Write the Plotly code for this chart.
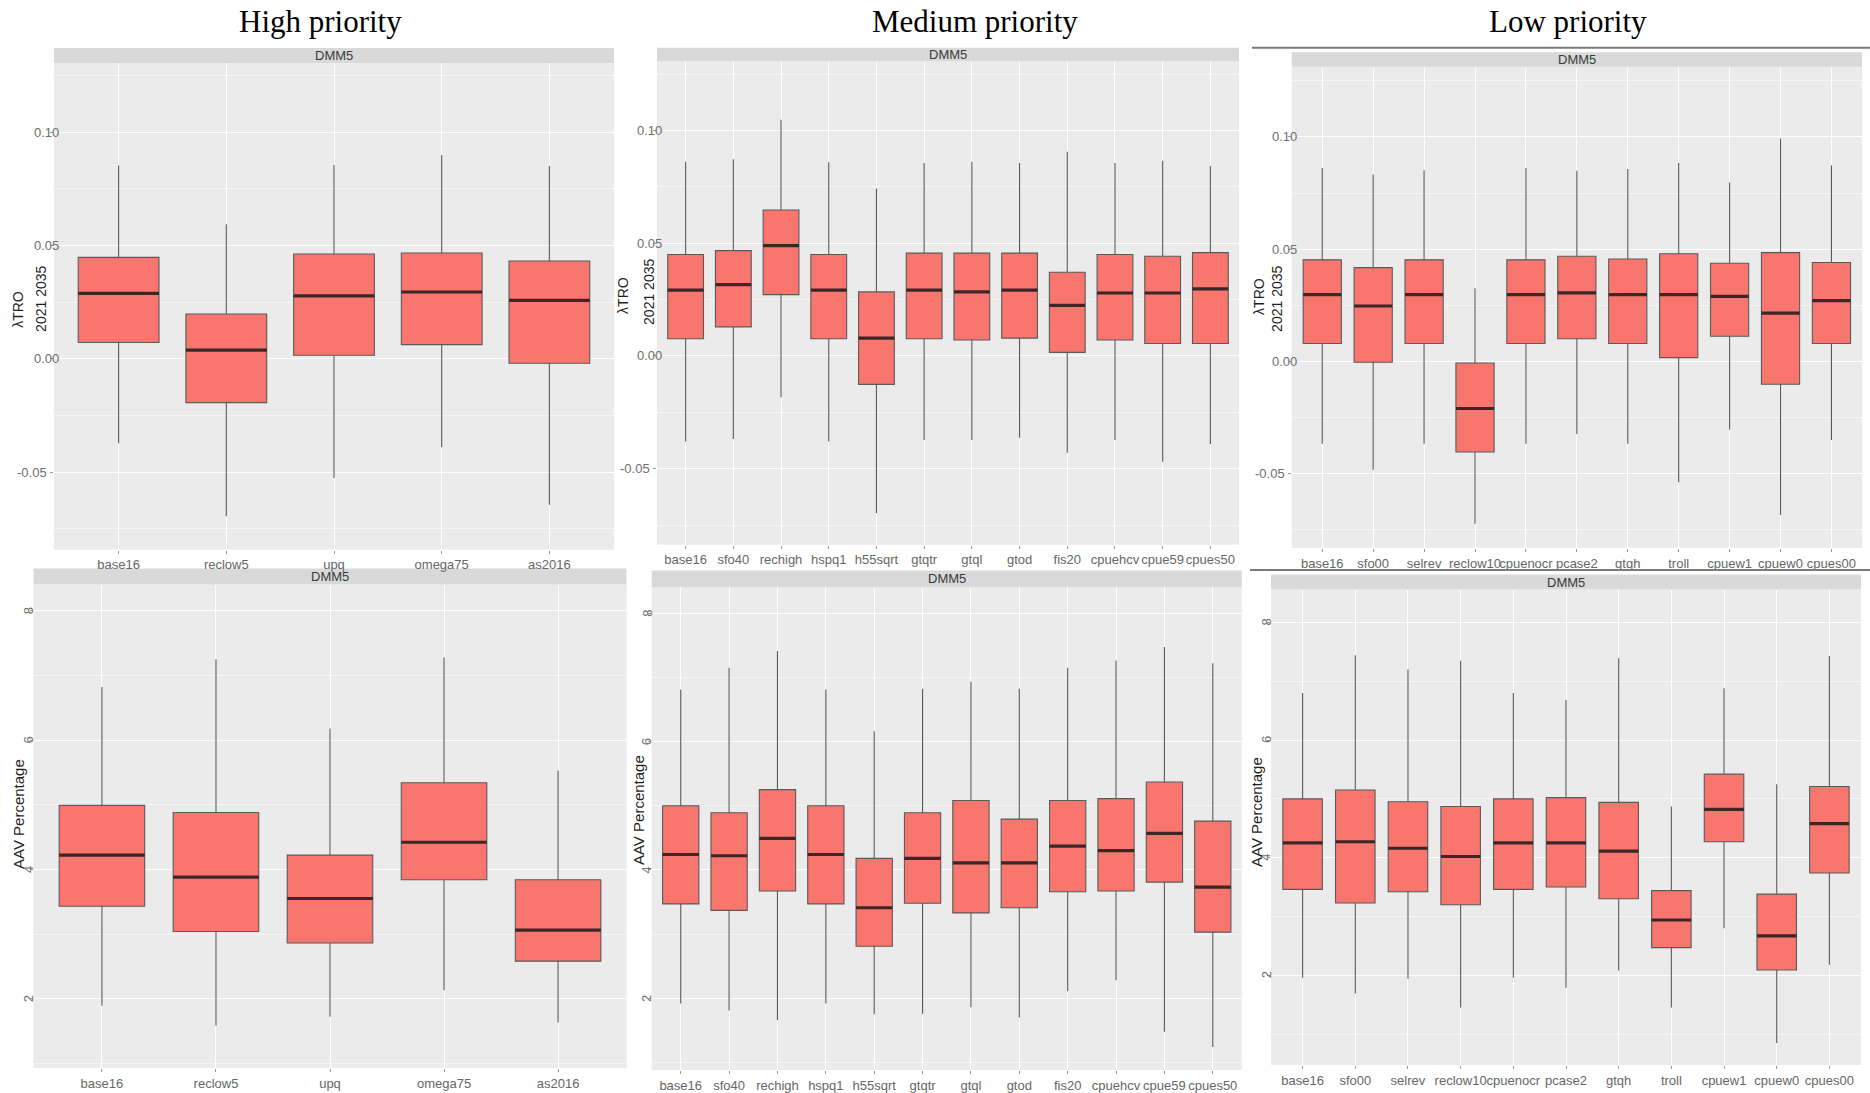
import plotly.graph_objects as go

# ---------------- data: box statistics per scenario ----------------
# Row 1: lambda TRO (2021-2035); Row 2: AAV percentage.
high_cats = ["base16", "reclow5", "upq", "omega75", "as2016"]
medium_cats = ["base16", "sfo40", "rechigh", "hspq1", "h55sqrt", "gtqtr",
               "gtql", "gtod", "fis20", "cpuehcv", "cpue59", "cpues50"]
low_cats = ["base16", "sfo00", "selrev", "reclow10", "cpuenocr", "pcase2",
            "gtqh", "troll", "cpuew1", "cpuew0", "cpues00"]

high_tro_lower = [-0.0372, -0.0694, -0.0526, -0.0390, -0.0644]
high_tro_q1 = [0.0072, -0.0193, 0.0016, 0.0063, -0.0019]
high_tro_median = [0.0289, 0.0039, 0.0278, 0.0295, 0.0258]
high_tro_q3 = [0.0448, 0.0198, 0.0463, 0.0467, 0.0432]
high_tro_upper = [0.0853, 0.0594, 0.0856, 0.0900, 0.0851]

medium_tro_lower = [-0.0379, -0.0368, -0.0183, -0.0379, -0.0698, -0.0373,
                    -0.0373, -0.0363, -0.0429, -0.0373, -0.0469, -0.0390]
medium_tro_q1 = [0.0076, 0.0129, 0.0272, 0.0076, -0.0126, 0.0076,
                 0.0071, 0.0079, 0.0016, 0.0071, 0.0055, 0.0055]
medium_tro_median = [0.0292, 0.0316, 0.0489, 0.0292, 0.0079, 0.0292,
                     0.0284, 0.0292, 0.0224, 0.0279, 0.0279, 0.0297]
medium_tro_q3 = [0.0450, 0.0467, 0.0647, 0.0450, 0.0284, 0.0456,
                 0.0456, 0.0456, 0.0371, 0.0450, 0.0442, 0.0458]
medium_tro_upper = [0.0861, 0.0872, 0.1047, 0.0859, 0.0742, 0.0856,
                    0.0861, 0.0856, 0.0905, 0.0856, 0.0865, 0.0842]

low_tro_lower = [-0.0368, -0.0484, -0.0368, -0.0725, -0.0368, -0.0325,
                 -0.0368, -0.0540, -0.0306, -0.0686, -0.0352]
low_tro_q1 = [0.0079, -0.0005, 0.0079, -0.0405, 0.0079, 0.0100,
              0.0079, 0.0016, 0.0111, -0.0103, 0.0079]
low_tro_median = [0.0297, 0.0246, 0.0297, -0.0211, 0.0297, 0.0305,
                  0.0297, 0.0297, 0.0289, 0.0214, 0.0270]
low_tro_q3 = [0.0452, 0.0417, 0.0452, -0.0008, 0.0452, 0.0468,
              0.0456, 0.0479, 0.0437, 0.0484, 0.0440]
low_tro_upper = [0.0862, 0.0833, 0.0852, 0.0325, 0.0862, 0.0849,
                 0.0857, 0.0884, 0.0797, 0.0992, 0.0873]

high_aav_lower = [1.89, 1.58, 1.72, 2.13, 1.63]
high_aav_q1 = [3.43, 3.04, 2.86, 3.84, 2.58]
high_aav_median = [4.22, 3.88, 3.55, 4.42, 3.06]
high_aav_q3 = [4.99, 4.88, 4.22, 5.34, 3.84]
high_aav_upper = [6.82, 7.25, 6.18, 7.28, 5.53]

medium_aav_lower = [1.92, 1.81, 1.66, 1.92, 1.75, 1.76, 1.86, 1.70, 2.11, 2.28, 1.48, 1.24]
medium_aav_q1 = [3.47, 3.37, 3.67, 3.47, 2.81, 3.48, 3.33, 3.41, 3.66, 3.67, 3.81, 3.03]
medium_aav_median = [4.24, 4.22, 4.49, 4.24, 3.41, 4.18, 4.11, 4.11, 4.37, 4.30, 4.57, 3.73]
medium_aav_q3 = [5.00, 4.89, 5.25, 5.00, 4.18, 4.89, 5.08, 4.79, 5.08, 5.11, 5.37, 4.76]
medium_aav_upper = [6.81, 7.15, 7.41, 6.81, 6.16, 6.82, 6.93, 6.82, 7.15, 7.26, 7.47, 7.22]

low_aav_lower = [1.96, 1.69, 1.94, 1.45, 1.96, 1.79, 2.08, 1.45, 2.80, 0.85, 2.18]
low_aav_q1 = [3.46, 3.23, 3.42, 3.20, 3.46, 3.50, 3.30, 2.47, 4.27, 2.09, 3.74]
low_aav_median = [4.25, 4.27, 4.16, 4.02, 4.25, 4.25, 4.11, 2.94, 4.82, 2.67, 4.58]
low_aav_q3 = [5.00, 5.15, 4.95, 4.87, 5.00, 5.02, 4.94, 3.44, 5.42, 3.38, 5.21]
low_aav_upper = [6.80, 7.44, 7.20, 7.35, 6.80, 6.68, 7.39, 4.87, 6.88, 5.25, 7.43]

group_titles = ["High priority", "Medium priority", "Low priority"]
strip_label = "DMM5"
tro_ticks = [-0.05, 0.0, 0.05, 0.10]
tro_ticktext = ["-0.05", "0.00", "0.05", "0.10"]
aav_ticks = [2, 4, 6, 8]
aav_ticktext = ["2", "4", "6", "8"]

# ---------------- page geometry (pixels) ----------------
W, H = 1870, 1093
SANS = "Liberation Sans, Arial, sans-serif"
SERIF = "Liberation Serif, Times New Roman, serif"
FILL = "#F8766D"

# left, right, strip top, panel top, panel bottom
GEOM = [
    (54.0, 614.0, 48.2, 63.6, 551.7),
    (657.0, 1239.0, 48.0, 61.4, 546.7),
    (1291.7, 1862.0, 52.5, 67.0, 550.0),
    (33.5, 626.5, 570.7, 586.7, 1072.0),
    (651.7, 1241.8, 572.7, 589.3, 1074.0),
    (1271.0, 1861.0, 576.7, 591.7, 1069.0),
]
YRANGES = [(-0.0842, 0.1304), (-0.0837, 0.1307), (-0.0833, 0.1313),
           (0.926, 8.407), (0.882, 8.404), (0.473, 8.559)]

panels = [
    (high_cats, high_tro_lower, high_tro_q1, high_tro_median, high_tro_q3, high_tro_upper),
    (medium_cats, medium_tro_lower, medium_tro_q1, medium_tro_median, medium_tro_q3, medium_tro_upper),
    (low_cats, low_tro_lower, low_tro_q1, low_tro_median, low_tro_q3, low_tro_upper),
    (high_cats, high_aav_lower, high_aav_q1, high_aav_median, high_aav_q3, high_aav_upper),
    (medium_cats, medium_aav_lower, medium_aav_q1, medium_aav_median, medium_aav_q3, medium_aav_upper),
    (low_cats, low_aav_lower, low_aav_q1, low_aav_median, low_aav_q3, low_aav_upper),
]

fig = go.Figure()
layout = dict(
    width=W, height=H,
    margin=dict(l=0, r=0, t=0, b=0),
    paper_bgcolor="white",
    plot_bgcolor="#EBEBEB",
    showlegend=False,
    boxmode="overlay",
    font=dict(family=SANS, color="#4D4D4D"),
)
shapes = []
annotations = []


def px_x(x):
    return x / W


def px_y(y):
    return 1 - y / H


for i, ((cats, lo, q1, med, q3, hi), (left, right, s_top, p_top, p_bot), yr) in enumerate(
        zip(panels, GEOM, YRANGES), start=1):
    xn = "x" if i == 1 else f"x{i}"
    yn = "y" if i == 1 else f"y{i}"
    xk = "xaxis" if i == 1 else f"xaxis{i}"
    yk = "yaxis" if i == 1 else f"yaxis{i}"
    top_row = i <= 3

    fig.add_trace(go.Box(
        x=cats, q1=q1, median=med, q3=q3, lowerfence=lo, upperfence=hi,
        xaxis=xn, yaxis=yn, width=0.75, whiskerwidth=0, boxpoints=False,
        fillcolor=FILL, line=dict(color="#5A5A5A", width=1.1), hoverinfo="skip",
    ))
    # thicker median bar drawn on top of each box
    fig.add_trace(go.Box(
        x=cats, q1=med, median=med, q3=med, lowerfence=med, upperfence=med,
        xaxis=xn, yaxis=yn, width=0.75, whiskerwidth=0, boxpoints=False,
        fillcolor="rgba(0,0,0,0)", line=dict(color="#3A2726", width=3.2),
        hoverinfo="skip",
    ))

    layout[xk] = dict(
        domain=[px_x(left), px_x(right)], anchor=yn,
        type="category", categoryorder="array", categoryarray=cats,
        range=[-0.6, len(cats) - 0.4],
        showgrid=True, gridcolor="white", gridwidth=1.4,
        zeroline=False, showline=False,
        ticks="outside", ticklen=3, tickcolor="#9A9A9A", tickwidth=1,
        tickangle=0,
        tickfont=dict(family=SANS, size=13, color="#666666"),
    )
    dt = 0.05 if top_row else 2
    layout[yk] = dict(
        domain=[px_y(p_bot), px_y(p_top)], anchor=xn,
        range=list(yr), tick0=0, dtick=dt,
        showgrid=True, gridcolor="white", gridwidth=1.4,
        minor=dict(tick0=0, dtick=dt / 2, showgrid=True, gridcolor="#F6F6F6", gridwidth=0.8),
        zeroline=False, showline=False, showticklabels=False,
        ticks="outside", ticklen=3, tickcolor="#9A9A9A", tickwidth=1,
    )

    # facet strip
    ph = p_bot - p_top
    shapes.append(dict(type="rect", xref=f"{xn} domain", yref=f"{yn} domain",
                       x0=0, x1=1, y0=1, y1=1 + (p_top - s_top) / ph,
                       fillcolor="#D9D9D9", line=dict(width=0), layer="below"))
    annotations.append(dict(text=strip_label, xref=f"{xn} domain", yref=f"{yn} domain",
                            x=0.5, y=1 + (p_top - s_top) / 2 / ph, showarrow=False,
                            xanchor="center", yanchor="middle",
                            font=dict(family=SANS, size=13, color="#3A3A3A")))

    # y tick labels
    if top_row:
        for v, t in zip(tro_ticks, tro_ticktext):
            annotations.append(dict(text=t, xref=f"{xn} domain", yref=yn, x=0, y=v,
                                    xanchor="right", yanchor="middle", showarrow=False,
                                    xshift=7 if v >= 0 else -5,
                                    font=dict(family=SANS, size=13, color="#6E6E6E")))
    else:
        for v, t in zip(aav_ticks, aav_ticktext):
            annotations.append(dict(text=t, xref=f"{xn} domain", yref=yn, x=0, y=v,
                                    xanchor="center", yanchor="middle", showarrow=False,
                                    xshift=-5, textangle=-90,
                                    font=dict(family=SANS, size=13, color="#6E6E6E")))

# column titles
for title, cx in zip(group_titles, [320, 975, 1568]):
    annotations.append(dict(text=title, xref="paper", yref="paper", x=px_x(cx), y=px_y(22),
                            xanchor="center", yanchor="middle", showarrow=False,
                            font=dict(family=SERIF, size=31, color="black")))

# axis titles
tro_title_pos = [((18, 311), (41, 300)), ((623, 297), (649, 293)), ((1259, 298), (1277, 300))]
for (a, b) in tro_title_pos:
    annotations.append(dict(text="λTRO", xref="paper", yref="paper", x=px_x(a[0]), y=px_y(a[1]),
                            xanchor="center", yanchor="middle", showarrow=False, textangle=-90,
                            font=dict(family=SANS, size=14, color="#1F1F1F")))
    annotations.append(dict(text="2021 2035", xref="paper", yref="paper", x=px_x(b[0]), y=px_y(b[1]),
                            xanchor="center", yanchor="middle", showarrow=False, textangle=-90,
                            font=dict(family=SANS, size=14, color="#1F1F1F")))
for (ax_, ay_) in [(18, 817), (638, 813), (1256, 815)]:
    annotations.append(dict(text="AAV Percentage", xref="paper", yref="paper",
                            x=px_x(ax_), y=px_y(ay_), xanchor="center", yanchor="middle",
                            showarrow=False, textangle=-90,
                            font=dict(family=SANS, size=15, color="#1F1F1F")))

# frame lines around the low-priority column
for (x0, x1, yv) in [(1252, 1870, 48), (1250, 1870, 572)]:
    shapes.append(dict(type="line", xref="paper", yref="paper",
                       x0=px_x(x0), x1=px_x(x1), y0=px_y(yv), y1=px_y(yv),
                       line=dict(color="#7A7A7A", width=2)))

layout["shapes"] = shapes
layout["annotations"] = annotations
fig.update_layout(**layout)
fig.write_html("out.html")
